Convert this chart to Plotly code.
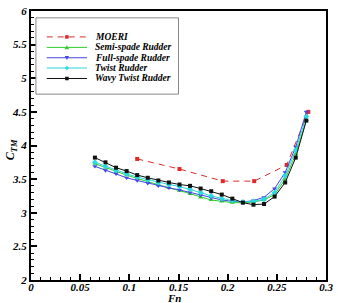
import plotly.graph_objects as go

# ---------------- data ----------------
fn_models = [0.065, 0.07575, 0.0865, 0.09725, 0.108, 0.11875, 0.1295, 0.14025,
             0.151, 0.16175, 0.1725, 0.18325, 0.194, 0.20475, 0.2155, 0.22625,
             0.237, 0.24775, 0.2585, 0.26925, 0.28]
semi_spade = [3.73, 3.67, 3.61, 3.56, 3.51, 3.46, 3.41, 3.37, 3.33, 3.28, 3.23,
              3.19, 3.17, 3.15, 3.15, 3.16, 3.19, 3.27, 3.50, 3.87, 4.38]
full_spade = [3.69, 3.63, 3.58, 3.52, 3.48, 3.44, 3.40, 3.37, 3.34, 3.30, 3.26,
              3.22, 3.19, 3.17, 3.16, 3.18, 3.23, 3.36, 3.60, 3.98, 4.50]
twist = [3.75, 3.69, 3.63, 3.58, 3.53, 3.49, 3.45, 3.42, 3.39, 3.35, 3.30,
         3.25, 3.21, 3.18, 3.16, 3.17, 3.20, 3.30, 3.55, 3.93, 4.43]
wavy_twist = [3.82, 3.75, 3.67, 3.62, 3.56, 3.52, 3.48, 3.45, 3.42, 3.40, 3.36,
              3.32, 3.27, 3.21, 3.15, 3.12, 3.13, 3.24, 3.45, 3.82, 4.37]
fn_moeri = [0.108, 0.151, 0.195, 0.227, 0.260, 0.282]
moeri = [3.80, 3.65, 3.47, 3.47, 3.71, 4.50]

x_ticks = [0, 0.05, 0.1, 0.15, 0.2, 0.25, 0.3]
x_tick_labels = ["0", "0.05", "0.1", "0.15", "0.2", "0.25", "0.3"]
y_ticks = [2, 2.5, 3, 3.5, 4, 4.5, 5, 5.5, 6]
y_tick_labels = ["2", "2.5", "3", "3.5", "4", "4.5", "5", "5.5", "6"]

names = ["MOERI", "Semi-spade Rudder", "Full-spade Rudder", "Twist Rudder", "Wavy Twist Rudder"]
colors = ["#dd2a2a", "#2ccc2c", "#4646e0", "#2ad8e0", "#111111"]
symbols = ["square", "triangle-up", "triangle-down", "diamond", "square"]

SERIF = "Liberation Serif"

fig = go.Figure()
series = [(fn_moeri, moeri), (fn_models, semi_spade), (fn_models, full_spade),
          (fn_models, twist), (fn_models, wavy_twist)]
for i, (xs, ys) in enumerate(series):
    fig.add_trace(go.Scatter(
        x=xs, y=ys, mode="lines+markers", name=names[i], showlegend=False,
        line=dict(color=colors[i], width=1.0, dash="6px,5px" if i == 0 else "solid"),
        marker=dict(symbol=symbols[i], size=4 if i in (0, 4) else 4.5, color=colors[i]),
    ))

tickfont = dict(family=SERIF, size=11, color="black", weight="bold", style="italic")
fig.update_xaxes(
    range=[0, 0.3], tickvals=x_ticks, ticktext=x_tick_labels, ticks="inside",
    ticklen=6, tickwidth=1.5, tickcolor="black", showline=True, linewidth=2.2,
    linecolor="black", mirror=True, showgrid=False, zeroline=False, tickfont=tickfont,
    ticklabeloverflow="allow", ticklabelstandoff=-4,
    minor=dict(dtick=0.01, ticks="inside", ticklen=3, tickcolor="black", tickwidth=1, showgrid=False),
)
fig.update_yaxes(
    range=[2, 6], tickvals=y_ticks, ticktext=y_tick_labels, ticks="inside",
    ticklen=6, tickwidth=1.5, tickcolor="black", showline=True, linewidth=2.2,
    linecolor="black", mirror=True, showgrid=False, zeroline=False, tickfont=tickfont,
    ticklabeloverflow="allow",
    minor=dict(dtick=0.1, ticks="inside", ticklen=3, tickcolor="black", tickwidth=1, showgrid=False),
)

# ---------------- custom legend ----------------
W, H = 300.0, 275.0  # plot area size in px
def px(x):
    return (x - 31) / W
def py(y):
    return (280 - y) / H

shapes = [dict(type="rect", xref="paper", yref="paper", x0=px(36), x1=px(181),
               y0=py(90), y1=py(12), line=dict(color="#888888", width=1),
               fillcolor="white", layer="above")]
annotations = []
rows = [31.5, 42.2, 52.8, 63.3, 74.0]
for i, ry in enumerate(rows):
    shapes.append(dict(type="line", xref="paper", yref="paper", x0=px(47), x1=px(88),
                       y0=py(ry), y1=py(ry), layer="above",
                       line=dict(color=colors[i], width=1.0, dash="6px,5px" if i == 0 else "solid")))
    cx, cy = 67.5, ry
    if symbols[i] == "square":
        shapes.append(dict(type="rect", xref="paper", yref="paper", x0=px(cx - 1.8), x1=px(cx + 1.8),
                           y0=py(cy + 1.8), y1=py(cy - 1.8), fillcolor=colors[i],
                           line=dict(width=0), layer="above"))
    elif symbols[i] == "triangle-up":
        path = f"M {px(cx-2.2)} {py(cy+1.8)} L {px(cx+2.2)} {py(cy+1.8)} L {px(cx)} {py(cy-2.2)} Z"
        shapes.append(dict(type="path", xref="paper", yref="paper", path=path,
                           fillcolor=colors[i], line=dict(width=0), layer="above"))
    elif symbols[i] == "triangle-down":
        path = f"M {px(cx-2.2)} {py(cy-1.8)} L {px(cx+2.2)} {py(cy-1.8)} L {px(cx)} {py(cy+2.2)} Z"
        shapes.append(dict(type="path", xref="paper", yref="paper", path=path,
                           fillcolor=colors[i], line=dict(width=0), layer="above"))
    else:
        path = f"M {px(cx-2.2)} {py(cy)} L {px(cx)} {py(cy-2.2)} L {px(cx+2.2)} {py(cy)} L {px(cx)} {py(cy+2.2)} Z"
        shapes.append(dict(type="path", xref="paper", yref="paper", path=path,
                           fillcolor=colors[i], line=dict(width=0), layer="above"))
    annotations.append(dict(xref="paper", yref="paper", x=px(94), y=py(ry), text=names[i],
                            showarrow=False, xanchor="left", yanchor="middle",
                            font=dict(family=SERIF, size=9.5, color="black", weight="bold", style="italic")))

# axis titles
annotations.append(dict(xref="paper", yref="paper", x=px(176), y=py(298.3), text="Fn",
                        showarrow=False, xanchor="center", yanchor="middle",
                        font=dict(family=SERIF, size=11, color="black", weight="bold", style="italic")))
annotations.append(dict(xref="paper", yref="paper", x=px(11), y=py(147), text="C<sub>TM</sub>",
                        showarrow=False, xanchor="center", yanchor="middle", textangle=-90,
                        font=dict(family=SERIF, size=12, color="black", weight="bold", style="italic")))

fig.update_layout(
    width=338, height=303, margin=dict(l=31, r=7, t=5, b=23),
    plot_bgcolor="white", paper_bgcolor="white", showlegend=False,
    shapes=shapes, annotations=annotations,
)

fig.write_html("out.html")
